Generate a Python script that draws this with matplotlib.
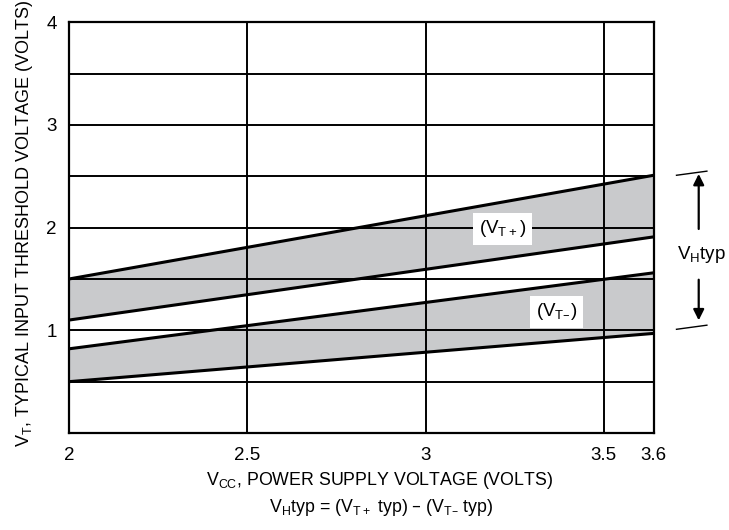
import matplotlib
matplotlib.use("Agg")
from matplotlib import pyplot as plt
from matplotlib import transforms
import numpy as np

plt.rcParams['font.family'] = ['Liberation Sans', 'DejaVu Sans']
plt.rcParams['mathtext.default'] = 'regular'

# supply voltage at the ends of the curves
vcc = [2.0, 3.6]
# upper band (VT+): top and bottom edge
vtp_hi = [1.50, 2.51]
vtp_lo = [1.10, 1.91]
# lower band (VT-): top and bottom edge
vtm_hi = [0.82, 1.56]
vtm_lo = [0.50, 0.97]

xticks = [2, 2.5, 3, 3.5, 3.6]
xticklabels = ['2', '2.5', '3', '3.5', '3.6']
yticks = [1, 2, 3, 4]
ygrid = np.arange(0.5, 4.0, 0.5)

# the 3.5..3.6 segment is drawn wider in the original sheet
k = 1.4
def fwd(x):
    x = np.asarray(x, float)
    return np.where(x <= 3.5, x, 3.5 + (x - 3.5) * k)

def inv(y):
    y = np.asarray(y, float)
    return np.where(y <= 3.5, y, 3.5 + (y - 3.5) / k)

fig = plt.figure(figsize=(7.29, 5.30), dpi=100)
ax = fig.add_axes([0.0947, 0.183, 0.802, 0.775])
ax.set_xscale('function', functions=(fwd, inv))
ax.set_xlim(2, 3.6)
ax.set_ylim(0, 4)

fill = '#c9cacc'
ax.fill_between(vcc, vtp_lo, vtp_hi, color=fill, lw=0, zorder=1)
ax.fill_between(vcc, vtm_lo, vtm_hi, color=fill, lw=0, zorder=1)

for xv in xticks:
    ax.axvline(xv, color='black', lw=1.4, zorder=2)
for yv in ygrid:
    ax.axhline(yv, color='black', lw=1.4, zorder=2)

for edge in (vtp_hi, vtp_lo, vtm_hi, vtm_lo):
    ax.plot(vcc, edge, color='black', lw=2.2, zorder=3, solid_capstyle='butt')

for s in ax.spines.values():
    s.set_linewidth(1.6)

ax.set_xticks(xticks)
ax.set_xticklabels(xticklabels)
ax.set_yticks(yticks)
ax.minorticks_off()
ax.tick_params(length=0, labelsize=13.5)
ax.tick_params(axis='x', pad=10)
ax.tick_params(axis='y', pad=9)

fig.text(0.521, 0.094, 'V$_{CC}$, POWER SUPPLY VOLTAGE (VOLTS)', fontsize=12.8, ha='center', va='center')
fig.text(0.034, 0.578, 'V$_{T}$, TYPICAL INPUT THRESHOLD VOLTAGE (VOLTS)', fontsize=13,
         ha='center', va='center', rotation=90)
fig.text(0.523, 0.042, 'V$_{H}$typ = (V$_{T+}$ typ) – (V$_{T–}$ typ)', fontsize=12.8, ha='center', va='center')

box = dict(boxstyle='square,pad=0.3', fc='white', ec='none')
ax.text(3.216, 1.99, '(V$_{T+}$)', fontsize=13.5, ha='center', va='center', bbox=box, zorder=4)
ax.text(3.367, 1.18, '(V$_{T–}$)', fontsize=13.5, ha='center', va='center', bbox=box, zorder=4)

# VH typ dimension on the right
tr = transforms.blended_transform_factory(ax.transAxes, ax.transData)
ax.plot([1.039, 1.091], [2.51, 2.55], color='black', lw=1, transform=tr, clip_on=False)
ax.plot([1.039, 1.091], [1.01, 1.05], color='black', lw=1, transform=tr, clip_on=False)
arr = dict(arrowstyle='-|>', color='black', lw=1.6, mutation_scale=16)
ax.annotate('', xy=(1.077, 2.55), xytext=(1.077, 1.96), xycoords=tr, textcoords=tr, arrowprops=arr)
ax.annotate('', xy=(1.077, 1.07), xytext=(1.077, 1.52), xycoords=tr, textcoords=tr, arrowprops=arr)
ax.text(1.081, 1.74, 'V$_{H}$typ', fontsize=13.5, ha='center', va='center', transform=tr)

fig.savefig('out.png', dpi=100)
